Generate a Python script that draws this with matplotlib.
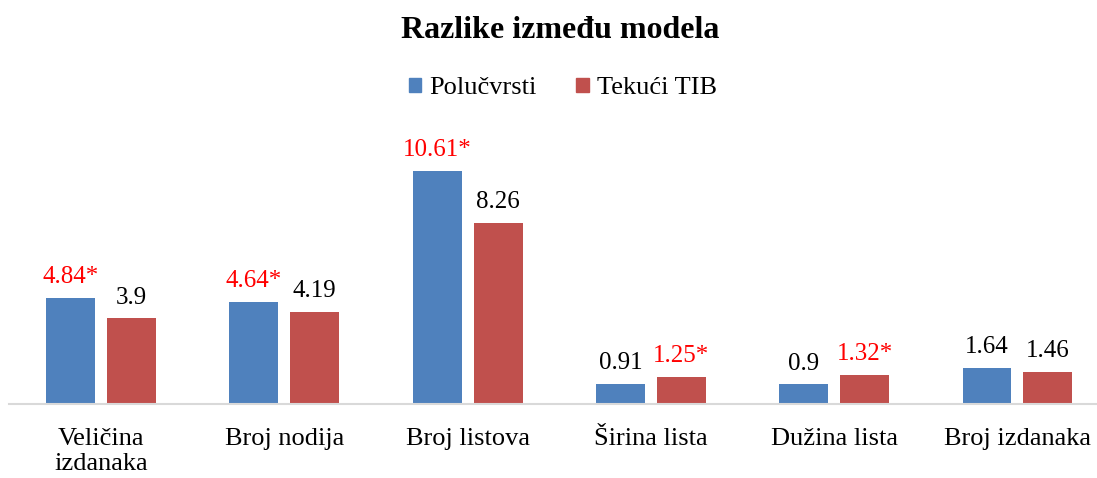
"""
Grouped bar chart: Razlike između modela.
"""
import numpy as np
import matplotlib
matplotlib.use('Agg')
import matplotlib.pyplot as plt
from matplotlib.patches import Patch

categories = ['Veličina\nizdanaka', 'Broj nodija', 'Broj listova',
              'Širina lista', 'Dužina lista', 'Broj izdanaka']
polucvrsti = [4.84, 4.64, 10.61, 0.91, 0.90, 1.64]
tekuci_tib = [3.90, 4.19, 8.26, 1.25, 1.32, 1.46]
polucvrsti_labels = ['4.84*', '4.64*', '10.61*', '0.91', '0.9', '1.64']
tekuci_labels = ['3.9', '4.19', '8.26', '1.25*', '1.32*', '1.46']
# which labels are marked significant (drawn red)
polucvrsti_sig = [True, True, True, False, False, False]
tekuci_sig = [False, False, False, True, True, False]

BLUE = '#4F81BD'
RED = '#C0504D'

plt.rcParams['font.family'] = ['Liberation Serif', 'DejaVu Serif']

fig = plt.figure(figsize=(10.97, 4.78), dpi=100)
ax = fig.add_axes([0.0086, 0.1548, 1.0024, 0.5513])

x = np.arange(len(categories))
width = 0.267
offset = 0.166

bars1 = ax.bar(x - offset, polucvrsti, width, color=BLUE)
bars2 = ax.bar(x + offset, tekuci_tib, width, color=RED)

for bars, labels, sig in [(bars1, polucvrsti_labels, polucvrsti_sig),
                          (bars2, tekuci_labels, tekuci_sig)]:
    for bar, lab, s in zip(bars, labels, sig):
        ax.annotate(lab, (bar.get_x() + bar.get_width() / 2, bar.get_height()),
                    xytext=(0, 7), textcoords='offset points',
                    ha='center', va='bottom', fontsize=18,
                    color='#FF0000' if s else 'black')

ax.set_xlim(-0.5, len(categories) - 0.5)
ax.set_ylim(0, 12)
ax.set_xticks(x)
ax.set_xticklabels(categories, fontsize=19, linespacing=1.2)
ax.tick_params(axis='x', length=0, pad=17)
ax.set_yticks([])
for side in ['top', 'right', 'left']:
    ax.spines[side].set_visible(False)
ax.spines['bottom'].set_color('#D9D9D9')
ax.spines['bottom'].set_linewidth(1.5)

fig.text(0.511, 0.937, 'Razlike između modela', ha='center', va='center',
         fontsize=23, fontweight='bold')

handles = [Patch(color=BLUE, label='Polučvrsti'),
           Patch(color=RED, label='Tekući TIB')]
fig.legend(handles=handles, loc='center', bbox_to_anchor=(0.513, 0.815),
           ncol=2, frameon=False, fontsize=19, handlelength=0.47,
           handleheight=0.47, handletextpad=0.3, columnspacing=1.5)

fig.savefig('out.png', dpi=100)
